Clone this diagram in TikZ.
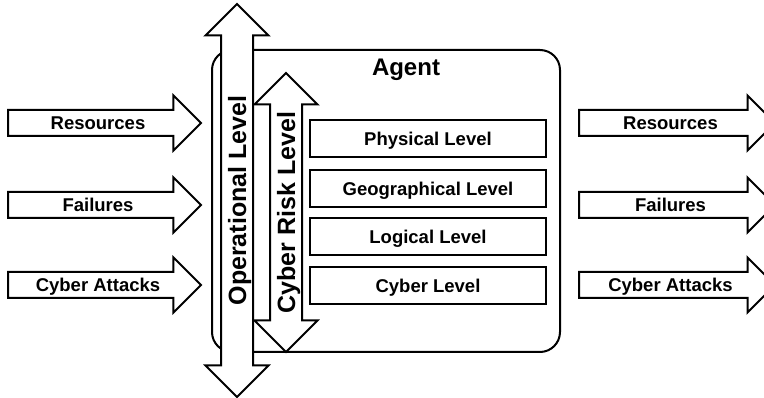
\documentclass[tikz,border=0pt]{standalone}
\usepackage{fontspec}
\setmainfont{Liberation Sans}
\usetikzlibrary{shapes.arrows}
\begin{document}
\begin{tikzpicture}[x=1pt,y=-1pt]
	\tikzstyle{flux}=[single arrow,draw,fill=white,line width=2pt,single arrow head extend=14.5pt,inner xsep=2pt,inner ysep=3.6pt,text height=15pt,text depth=1.8pt,font=\fontsize{18.5}{20}\selectfont\bfseries,anchor=tail]
	\tikzstyle{axe}=[double arrow,draw,fill=white,line width=2pt,rotate=90,double arrow head extend=15.5pt,inner ysep=4pt,text height=20pt,text depth=2pt,font=\fontsize{25}{28}\selectfont\bfseries]
	\tikzstyle{niveau}=[draw,line width=2pt,minimum width=236pt,minimum height=37pt,text height=15pt,text depth=1.8pt,font=\fontsize{18.5}{20}\selectfont\bfseries]
	\useasboundingbox (0,0) rectangle (764,398);
	\node[draw,line width=2pt,rounded corners=20pt,minimum width=348pt,minimum height=302pt] (agent) at (386,201){};
	\node[font=\fontsize{24}{26}\selectfont\bfseries] (titre) at (406,70){Agent};
	\node[niveau] (phys) at (428,139){Physical Level};
	\node[niveau] (geo) at (428,188.5){Geographical Level};
	\node[niveau] (logi) at (428,237){Logical Level};
	\node[niveau] (cyb) at (428,286){Cyber Level};
	\node[axe,minimum height=279pt] (risque) at (286,212.5){Cyber Risk Level};
	\node[axe,minimum height=393pt] (oper) at (237,200.5){Operational Level};
	\node[flux,minimum height=193pt] (resg) at (7,123){Resources};
	\node[flux,minimum height=193pt] (failg) at (7,205){Failures};
	\node[flux,minimum height=193pt] (attg) at (7,285){Cyber Attacks};
	\node[flux,minimum height=196pt] (resd) at (578,123){Resources};
	\node[flux,minimum height=196pt] (faild) at (578,205){Failures};
	\node[flux,minimum height=196pt] (attd) at (578,285){Cyber Attacks};
\end{tikzpicture}
\end{document}
